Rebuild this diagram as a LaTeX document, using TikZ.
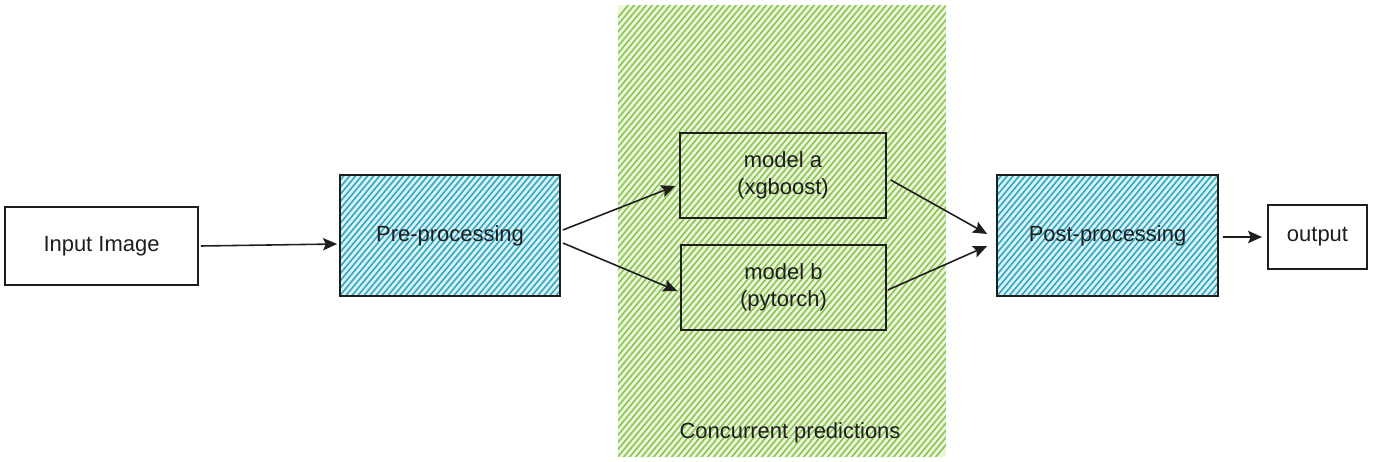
\documentclass[tikz,border=0pt]{standalone}
\usepackage{fontspec}
\setmainfont{Liberation Sans}
\usetikzlibrary{arrows.meta,calc}
\definecolor{ink}{RGB}{30,30,30}
\definecolor{bluehatch}{RGB}{55,165,190}
\definecolor{bluebg}{RGB}{215,244,250}
\definecolor{greenhatch}{RGB}{140,195,80}
\definecolor{greenbg}{RGB}{235,247,218}
\tikzset{
  hatched/.style 2 args={
    fill=#2,
    path picture={
      \foreach \k in {-342,-336,...,342}
        \draw[#1, line width=0.9pt]
          ($(path picture bounding box.center)+(\k-200,240)$) --
          ($(path picture bounding box.center)+(\k+200,-240)$);
    }},
  box/.style={draw=ink, line width=1pt, text=ink, font=\fontsize{12.5}{15}\selectfont, align=center, inner sep=0pt},
  modelbox/.style={box, line width=0.9pt},
  conn/.style={draw=ink, line width=0.9pt, -{Stealth[length=8pt,width=7pt,inset=1.5pt]}},
}
\begin{document}
\begin{tikzpicture}[x=0.02cm,y=-0.02cm]
\useasboundingbox (0,0) rectangle (1400,462);
% concurrent region
\node[hatched={greenhatch}{greenbg}, minimum width=6.56cm, minimum height=9.04cm, inner sep=0pt] (conc) at (782,231) {};
\node[text=ink, font=\fontsize{12.5}{15}\selectfont] (conclabel) at (790,433) {Concurrent predictions};
% boxes
\node[box, minimum width=3.86cm, minimum height=1.56cm] (inp) at (101.5,246) {Input Image};
\node[box, hatched={bluehatch}{bluebg}, minimum width=4.4cm, minimum height=2.42cm] (pre) at (450,235.5) {Pre-processing};
\node[modelbox, minimum width=4.12cm, minimum height=1.7cm] (ma) at (783,175.5) {model a\\(xgboost)};
\node[modelbox, minimum width=4.1cm, minimum height=1.7cm] (mb) at (783.5,287.5) {model b\\(pytorch)};
\node[box, hatched={bluehatch}{bluebg}, minimum width=4.42cm, minimum height=2.42cm] (post) at (1107.5,235.5) {Post-processing};
\node[box, minimum width=1.98cm, minimum height=1.28cm] (out) at (1317.5,237) {output};
% connectors
\draw[conn] ($(inp.east)+(2,0)$) -- ($(pre.west)+(-2,8.5)$);
\draw[conn] ($(pre.east)+(2,-5.5)$) -- ($(ma.west)+(-4,10.5)$);
\draw[conn] ($(pre.east)+(2,7.5)$) -- ($(mb.west)+(-3,3.5)$);
\draw[conn] ($(ma.east)+(4,4.5)$) -- ($(post.west)+(-9,-1.5)$);
\draw[conn] ($(mb.east)+(1,2.5)$) -- ($(post.west)+(-9,10.5)$);
\draw[conn] ($(post.east)+(4,1.5)$) -- ($(out.west)+(-5,0)$);
\end{tikzpicture}
\end{document}
